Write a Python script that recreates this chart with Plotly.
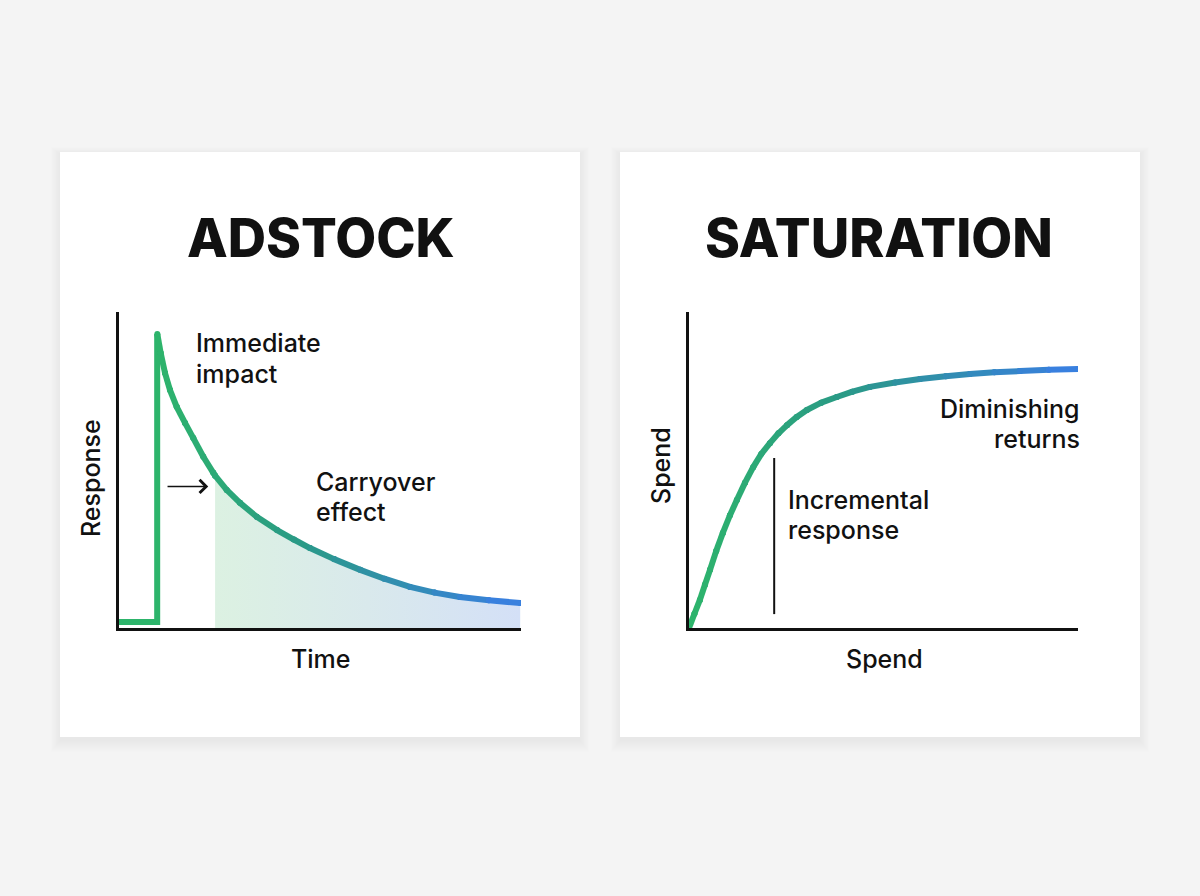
import plotly.graph_objects as go
from plotly.colors import sample_colorscale

W, H = 1200, 896

# ---------------- data ----------------
# Adstock: baseline, impulse and decay (time units 0..10, response 0..1)
adstock_base_x = [0.0, 0.95, 0.95]
adstock_base_y = [0.019, 0.019, 0.930]
decay_x = [0.953, 1.037, 1.144, 1.269, 1.435, 1.642, 1.848, 2.097, 2.346, 2.39,
           2.679, 3.01, 3.425, 3.93, 4.35, 4.75, 5.35, 6.00, 6.60, 7.24, 7.85,
           8.48, 9.20, 9.98]
decay_y = [0.930, 0.870, 0.807, 0.753, 0.700, 0.649, 0.601, 0.542, 0.491, 0.482,
           0.437, 0.396, 0.352, 0.310, 0.280, 0.253, 0.218, 0.184, 0.156, 0.130,
           0.112, 0.098, 0.088, 0.079]
carryover_start = 2.39

# Saturation: spend (0..10) vs response (0..1)
sat_x = [0.0, 0.14, 0.28, 0.41, 0.54, 0.70, 0.87, 1.05, 1.23, 1.44, 1.65, 1.86,
         2.08, 2.30, 2.52, 2.77, 3.03, 3.40, 3.80, 4.20, 4.65, 5.30, 5.94, 6.60,
         7.22, 7.85, 8.51, 9.25, 10.0]
sat_y = [0.0, 0.045, 0.089, 0.137, 0.184, 0.244, 0.301, 0.356, 0.405, 0.460, 0.509,
         0.551, 0.585, 0.616, 0.642, 0.668, 0.690, 0.713, 0.731, 0.748, 0.763,
         0.777, 0.788, 0.797, 0.804, 0.809, 0.813, 0.817, 0.820]
incr_x = 2.19
incr_y = [0.044, 0.538]

arrow_from = (1.17, 0.448)
arrow_to = (2.22, 0.448)

titles = ["ADSTOCK", "SATURATION"]
labels = {"resp": "Response", "time": "Time", "spend": "Spend"}
notes = [["Immediate", "impact"], ["Carryover", "effect"],
         ["Diminishing", "returns"], ["Incremental", "response"]]

# ---------------- styling ----------------
GREEN = "#2db46b"
SCALE = [[0, "#2db46b"], [0.4, "#2a9a86"], [1, "#3a7ee5"]]
LW = 6
FONT = "Inter"


def px(x):
    return x / W


def py(y):
    return 1 - y / H


fig = go.Figure()


def gradient_line(xs, ys, xref, yref, x0=0.0, x1=10.0):
    n = len(xs)
    for i in range(n - 1):
        t = ((xs[i] + xs[i + 1]) / 2 - x0) / (x1 - x0)
        t = min(max(t, 0), 1)
        c = sample_colorscale(SCALE, [t])[0]
        fig.add_trace(go.Scatter(
            x=xs[i:i + 2], y=ys[i:i + 2], mode="lines+markers",
            line=dict(color=c, width=LW), marker=dict(color=c, size=LW),
            xaxis=xref, yaxis=yref, hoverinfo="skip", showlegend=False))


# fill under carryover
i0 = decay_x.index(carryover_start)
fig.add_trace(go.Scatter(
    x=decay_x[i0:], y=decay_y[i0:], mode="lines", line=dict(width=0), fill="tozeroy",
    fillgradient=dict(type="horizontal",
                      colorscale=[[0, "#dcf1e2"], [0.5, "#d9e9ec"], [1, "#d4e0f7"]]),
    xaxis="x", yaxis="y", hoverinfo="skip", showlegend=False))

# baseline + impulse (green)
fig.add_trace(go.Scatter(
    x=adstock_base_x, y=adstock_base_y, mode="lines",
    line=dict(color=GREEN, width=LW), xaxis="x", yaxis="y",
    hoverinfo="skip", showlegend=False))
gradient_line(decay_x, decay_y, "x", "y", x0=0.95, x1=10.0)

gradient_line(sat_x, sat_y, "x2", "y2")

# incremental response marker line
fig.add_trace(go.Scatter(
    x=[incr_x, incr_x], y=incr_y, mode="lines",
    line=dict(color="#111111", width=2), xaxis="x2", yaxis="y2",
    hoverinfo="skip", showlegend=False))

# ---------------- cards ----------------
shapes = []
cards = [(60, 152, 580, 737), (620, 152, 1140, 737)]
for (l, t, r, b) in cards:
    for k in range(12, 0, -1):
        shapes.append(dict(type="rect", xref="paper", yref="paper",
                           x0=px(l - k * 0.8), x1=px(r + k * 0.8),
                           y0=py(b + k + 3), y1=py(t - k * 0.6 + 2),
                           fillcolor="rgba(0,0,0,0.0045)", line=dict(width=0), layer="below"))
    shapes.append(dict(type="rect", xref="paper", yref="paper",
                       x0=px(l), x1=px(r), y0=py(b), y1=py(t),
                       fillcolor="white", line=dict(width=0), layer="below"))

annotations = []


def text(s, x, y, size=25, xanchor="center", angle=0, weight=500):
    annotations.append(dict(text=s, x=px(x), y=py(y), xref="paper", yref="paper",
                            showarrow=False, xanchor=xanchor, yanchor="middle",
                            textangle=angle,
                            font=dict(family=FONT, size=size, color="#111111",
                                      weight=weight)))


text(titles[0], 321, 238, size=53, weight=800)
text(titles[1], 879, 238, size=53, weight=800)
text(labels["resp"], 91, 478, angle=-90)
text(labels["time"], 321, 659)
text(labels["spend"], 661, 466, angle=-90)
text(labels["spend"], 884, 659)
text(notes[0][0], 194, 343, xanchor="left")
text(notes[0][1], 194, 374, xanchor="left")
text(notes[1][0], 314, 482, xanchor="left")
text(notes[1][1], 314, 512, xanchor="left")
text(notes[2][0], 1082, 409, xanchor="right")
text(notes[2][1], 1054 + 28, 439, xanchor="right")
text(notes[3][0], 786, 500, xanchor="left")
text(notes[3][1], 786, 530, xanchor="left")

annotations.append(dict(x=arrow_to[0], y=arrow_to[1], ax=arrow_from[0], ay=arrow_from[1],
                        xref="x", yref="y", axref="x", ayref="y", text="",
                        showarrow=True, arrowhead=4, arrowsize=1.6, arrowwidth=1.6,
                        arrowcolor="#111111"))

axis_common = dict(showgrid=False, zeroline=False, showticklabels=False, ticks="",
                   showline=True, linecolor="#111111", linewidth=3, mirror=False,
                   fixedrange=True)

fig.update_layout(
    width=W, height=H, margin=dict(l=0, r=0, t=0, b=0),
    paper_bgcolor="#f4f4f4", plot_bgcolor="rgba(0,0,0,0)",
    xaxis=dict(domain=[px(119), px(521)], range=[0, 10], anchor="y", **axis_common),
    yaxis=dict(domain=[py(628), py(312)], range=[0, 1], anchor="x", **axis_common),
    xaxis2=dict(domain=[px(689), px(1078)], range=[0, 10], anchor="y2", **axis_common),
    yaxis2=dict(domain=[py(628), py(312)], range=[0, 1], anchor="x2", **axis_common),
    shapes=shapes, annotations=annotations, showlegend=False,
)

fig.write_html("out.html", config={"displayModeBar": False},
               post_script="document.body.style.margin='0';"
                           "document.body.style.background='#f4f4f4';")
